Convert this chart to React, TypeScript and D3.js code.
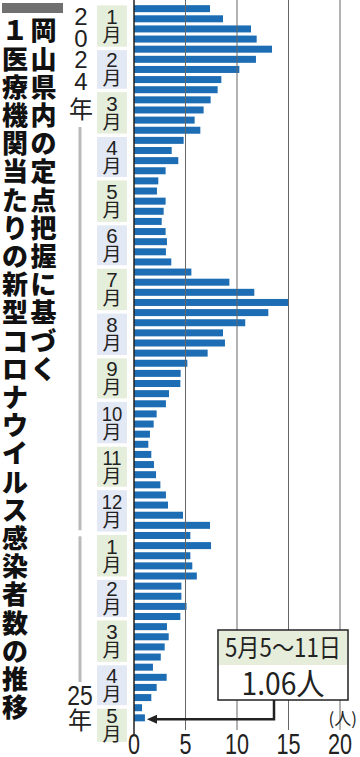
import React from 'react';
import * as d3 from 'd3';

// Weekly values (人 per medical institution), weeks starting Mon 2024-01-01 … 2025-05-05
const values: number[] = [
  7.38, 8.64, 11.36, 11.91, 13.4, 11.84, 10.23, 8.48, 8.12, 7.44,
  6.76, 5.89, 6.44, 4.82, 3.66, 4.3, 3.07, 2.36, 2.23, 3.07,
  2.88, 2.69, 3.07, 3.2, 3.1, 3.62, 5.57, 9.26, 11.68, 14.98,
  13.04, 10.8, 8.64, 8.83, 7.15, 5.18, 4.53, 4.5, 3.4, 3.1,
  2.2, 1.91, 1.55, 1.39, 1.68, 1.94, 2.14, 2.56, 3.1, 3.3,
  4.76, 7.38, 5.47, 7.48, 5.47, 5.66, 6.1, 4.6, 4.6, 5.1,
  4.5, 3.2, 3.37, 2.98, 2.6, 1.84, 3.17, 2.2, 1.68, 0.78, 1.06,
];
const monthLabels: string[] = ['1', '2', '3', '4', '5', '6', '7', '8', '9', '10', '11', '12', '1', '2', '3', '4', '5'];
const xTicks: number[] = [0, 5, 10, 15, 20];
const titleCol1 = '岡山県内の定点把握に基づく';
const titleCol2 = '１医療機関当たりの新型コロナウイルス感染者数の推移';
const year2024Digits: string[] = ['2', '0', '2', '4'];
const yearKanji = '年';
const year2025 = '25';
const annotationDate = '5月5〜11日';
const annotationValue = '1.06人';
const unitLabel = '(人)';

const START = new Date(2024, 0, 1);
const END = new Date(2025, 4, 12);

const CJK = '"Noto Sans CJK JP", sans-serif';
const LAT = '"Liberation Sans", Arial, sans-serif';

export default function App() {
  const W = 360, H = 757;
  const weeks = d3.timeMonday.range(START, END);
  const y = d3.scaleTime().domain([START, END]).range([3.6, 722.9]);
  const x = d3.scaleLinear().domain([0, 20]).range([134, 340]);
  const months = d3.timeMonth.range(START, END);
  const barH = 7;
  const lastCy = y(d3.timeHour.offset(weeks[weeks.length - 1], 84));
  const newYear = y(new Date(2025, 0, 1));

  return (
    <div style={{ position: 'absolute', left: 0, top: 0 }}>
      <svg width={W} height={H} style={{ display: 'block', background: '#fff' }}>
        {/* month boxes */}
        {months.map((m, i) => {
          const top = y(m) + 1.7;
          const bottom = i === months.length - 1 ? y(END) + 19 : y(d3.timeMonth.offset(m, 1)) - 1.7;
          const cy = (top + bottom) / 2;
          const lab = monthLabels[i];
          return (
            <g key={'m' + i}>
              <rect x={97} y={top} width={30} height={bottom - top} fill={i % 2 === 0 ? '#e5eedb' : '#e2e8f4'} />
              <text x={112} y={cy - 2} textAnchor="middle" fontFamily={LAT} fontSize={20.5}
                fill="#222" transform={lab.length > 1 ? `translate(112,0) scale(0.9,1) translate(-112,0)` : undefined}>{lab}</text>
              <text x={112} y={cy + 16} textAnchor="middle" fontFamily={CJK} fontSize={19} fill="#222">月</text>
            </g>
          );
        })}

        {/* bars */}
        {values.map((v, i) => {
          const cy = y(d3.timeHour.offset(weeks[i], 84));
          return <rect key={'b' + i} x={x(0)} y={cy - barH / 2} width={x(v) - x(0)} height={barH} fill="#1d6db4" />;
        })}

        {/* grid lines */}
        {xTicks.filter(t => t > 0).map(t => (
          <line key={'g' + t} x1={x(t)} x2={x(t)} y1={0} y2={730} stroke="#666" strokeWidth={1} />
        ))}
        <line x1={x(0)} x2={x(0)} y1={0} y2={734} stroke="#222" strokeWidth={1.5} />

        {/* tick labels */}
        {xTicks.map(t => (
          <text key={'t' + t} x={x(t)} y={754} textAnchor="middle" fontFamily={LAT} fontSize={30} fill="#222"
            transform={`translate(${x(t)},0) scale(0.72,1) translate(${-x(t)},0)`}>{t}</text>
        ))}
        <text x={357} y={725} textAnchor="end" fontFamily={CJK} fontSize={17} fill="#222">{unitLabel}</text>

        {/* annotation */}
        <polyline points={`274,700 274,${lastCy + 1.5} 156,${lastCy + 1.5}`} fill="none" stroke="#222" strokeWidth={2.5} />
        <path d={`M${x(1.06) + 2},${lastCy + 1.5} L157,${lastCy - 3} L157,${lastCy + 6} Z`} fill="#222" />
        <rect x={218} y={630} width={130} height={70} fill="#fff" stroke="#222" strokeWidth={1.5} />
        <rect x={219} y={631} width={128} height={34} fill="#e6eedb" />
        <text x={283} y={657} textAnchor="middle" fontFamily={CJK} fontSize={25} fill="#222"
          textLength={116} lengthAdjust="spacingAndGlyphs">{annotationDate}</text>
        <text x={283} y={695} textAnchor="middle" fontFamily={CJK} fontSize={31} fill="#222"
          textLength={83} lengthAdjust="spacingAndGlyphs">{annotationValue}</text>

        {/* year labels */}
        {year2024Digits.map((d, i) => (
          <text key={'y' + i} x={81} y={25 + i * 21.7} textAnchor="middle" fontFamily={LAT} fontSize={24} fill="#222">{d}</text>
        ))}
        <text x={81} y={118} textAnchor="middle" fontFamily={CJK} fontSize={24} fill="#222">{yearKanji}</text>
        <line x1={80} x2={80} y1={127} y2={newYear - 3} stroke="#bbb" strokeWidth={3} />
        <line x1={80} x2={80} y1={newYear + 3} y2={682} stroke="#bbb" strokeWidth={3} />
        <text x={80} y={705} textAnchor="middle" fontFamily={LAT} fontSize={27} fill="#222"
          transform="translate(80,0) scale(0.85,1) translate(-80,0)">{year2025}</text>
        <text x={80} y={729} textAnchor="middle" fontFamily={CJK} fontSize={24} fill="#222">{yearKanji}</text>

        {/* title */}
        <rect x={2} y={3} width={61} height={10} fill="#707070" />
        {Array.from(titleCol1).map((c, i) => (
          <text key={'c1' + i} x={43.5} y={40.4 + i * 28.2} textAnchor="middle" fontFamily={CJK} fontWeight={900} fontSize={26} fill="#111">{c}</text>
        ))}
        {Array.from(titleCol2).map((c, i) => (
          <text key={'c2' + i} x={15} y={40.4 + i * 28.2} textAnchor="middle" fontFamily={CJK} fontWeight={900} fontSize={26} fill="#111">{c}</text>
        ))}
      </svg>
    </div>
  );
}
